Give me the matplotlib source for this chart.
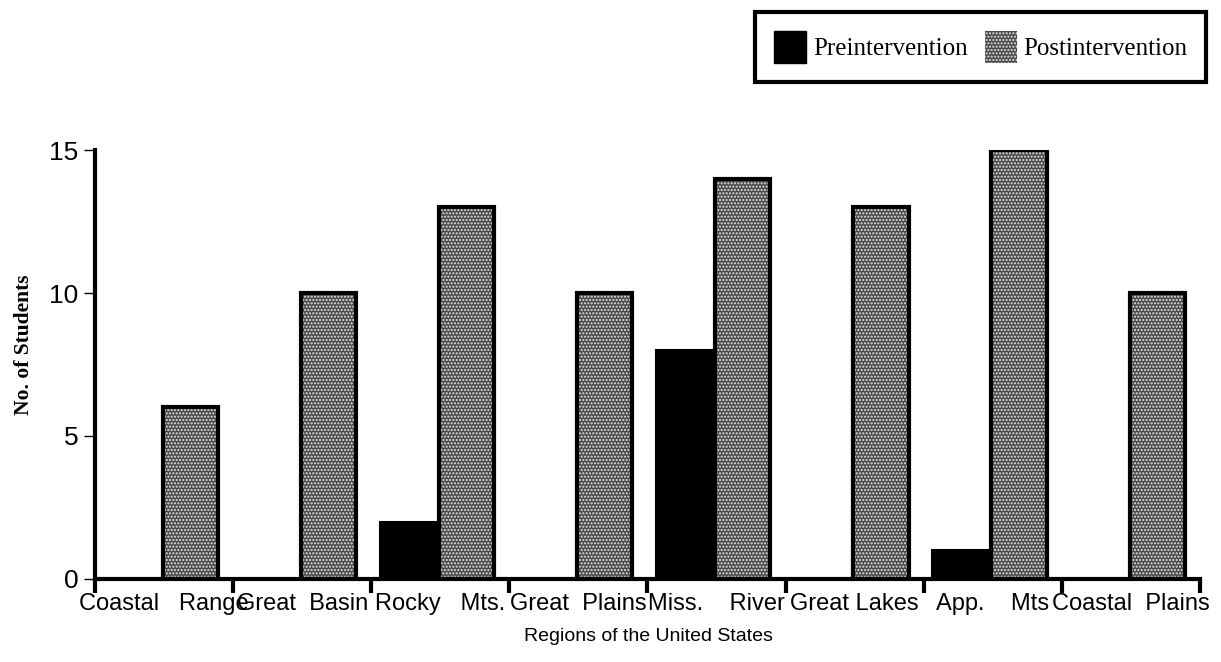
import matplotlib
matplotlib.use("Agg")
import matplotlib.pyplot as plt
from matplotlib.patches import Patch
import numpy as np

categories = ["Coastal   Range", "Great  Basin", "Rocky   Mts.", "Great  Plains",
              "Miss.    River", "Great Lakes", "App.    Mts", "Coastal  Plains"]
pre = [0, 0, 2, 0, 8, 0, 1, 0]
post = [6, 10, 13, 10, 14, 13, 15, 10]
yticks = [0, 5, 10, 15]

sans = ['Liberation Sans', 'DejaVu Sans']
serif = ['Liberation Serif', 'DejaVu Serif']
post_face = '#4a4a4a'
post_hatch = '#e6e6e6'

fig = plt.figure(figsize=(12.21, 6.62), dpi=100)
ax = fig.add_axes([0.0778, 0.1254, 0.905, 0.648])

x = np.arange(len(categories))
ax.bar(x + 0.06, pre, width=0.43, align='edge', color='black', edgecolor='black', linewidth=1.5, zorder=2)
ax.bar(x + 0.49, post, width=0.40, align='edge', color=post_face, hatch='.....',
       edgecolor=post_hatch, linewidth=0, zorder=2)
ax.bar(x + 0.49, post, width=0.40, align='edge', fill=False, edgecolor='black', linewidth=3, zorder=3)

ax.set_xlim(0, len(categories))
ax.set_ylim(0, 15)
ax.set_yticks(yticks)
ax.set_yticklabels([str(v) for v in yticks], family=sans, fontsize=19)
ax.set_xticks(np.arange(len(categories) + 1))
ax.set_xticklabels([])
ax.tick_params(axis='x', direction='out', length=10, width=3, color='black')
ax.tick_params(axis='y', direction='out', length=8, width=1, color='black', pad=4)
for i, c in enumerate(categories):
    ax.text(i + 0.5, -0.5, c, ha='center', va='top', family=sans, fontsize=17)

for s in ['top', 'right']:
    ax.spines[s].set_visible(False)
for s in ['left', 'bottom']:
    ax.spines[s].set_linewidth(3)
    ax.spines[s].set_zorder(4)

fig.text(0.531, 0.039, "Regions of the United States", ha='center', va='center', family=sans, fontsize=14)
fig.text(0.020, 0.479, "No. of Students", rotation=90, ha='center', va='center',
         family=serif, fontsize=15.5, fontweight='bold')

handles = [Patch(facecolor='black', edgecolor='black'),
           Patch(facecolor=post_face, hatch='.....', edgecolor=post_hatch, linewidth=0)]
leg = fig.legend(handles, ["Preintervention", "Postintervention"], loc='upper right',
                 bbox_to_anchor=(0.988, 0.982), ncol=2, frameon=True, fancybox=False, framealpha=1,
                 prop={'family': serif, 'size': 18}, handlelength=1.3, handleheight=1.6,
                 handletextpad=0.25, columnspacing=0.7, borderpad=0.75, borderaxespad=0)
leg.get_frame().set_edgecolor('black')
leg.get_frame().set_linewidth(3)

fig.savefig("out.png", dpi=100)
